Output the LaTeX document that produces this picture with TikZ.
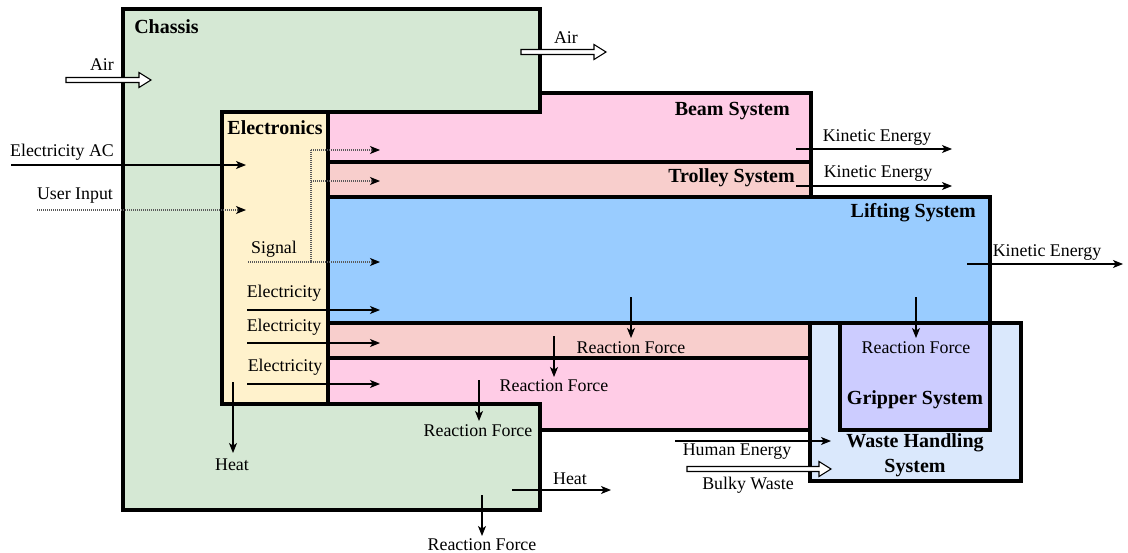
\documentclass[tikz,border=0pt]{standalone}
\usepackage{fontspec}
\setmainfont{Liberation Serif}
\usetikzlibrary{arrows.meta,calc}
\definecolor{chassisc}{HTML}{D5E8D4}
\definecolor{elecc}{HTML}{FFF2CC}
\definecolor{beamc}{HTML}{FFCCE6}
\definecolor{trolleyc}{HTML}{F8CECC}
\definecolor{liftc}{HTML}{99CCFF}
\definecolor{wastec}{HTML}{DAE8FC}
\definecolor{gripc}{HTML}{CCCCFF}
\newcommand\hollowarr[2]{\draw[hollowst] ($(#1)+(0,-2.5)$) -- ($(#2)+(-12,-2.5)$) -- ($(#2)+(-12,-7.5)$) -- (#2) -- ($(#2)+(-12,7.5)$) -- ($(#2)+(-12,2.5)$) -- ($(#1)+(0,2.5)$) -- cycle;}
\begin{document}
\begin{tikzpicture}[x=0.75pt,y=-0.75pt,
  box/.style={draw=black,line width=2.3pt},
  flow/.style={line width=0.8pt,-{Stealth[length=7.5pt,width=6pt,inset=2pt]}},
  sig/.style={line width=0.8pt,draw=black!65,dash pattern=on 0.7pt off 0.8pt},
  sigarr/.style={sig,-{Stealth[length=7.5pt,width=6pt,inset=2pt,black]}},
  hollowst/.style={draw=black,line width=0.8pt,fill=white},
  lbl/.style={inner sep=0pt,font=\fontsize{13.4}{16}\selectfont},
  ttl/.style={inner sep=0pt,font=\fontsize{15}{19}\selectfont\bfseries}]
\useasboundingbox (0,0) rectangle (1128,553);
% boxes
\draw[box,fill=beamc] (328,93) rectangle (811,430);
\draw[box,fill=trolleyc] (328,162) rectangle (811,358);
\draw[box,fill=liftc] (328,197) rectangle (990,323);
\draw[box,fill=wastec] (810,323) rectangle (1021,481);
\draw[box,fill=gripc] (840,323) rectangle (990,430);
\draw[box,fill=chassisc] (123,9) -- (540,9) -- (540,112) -- (222,112) -- (222,404) -- (540,404) -- (540,510) -- (123,510) -- cycle;
\draw[box,fill=elecc] (222,112) rectangle (328,404);
% titles
\node[ttl,anchor=west] (tChassis) at (134,27) {Chassis};
\node[ttl] (tElec) at (275,128) {Electronics};
\node[ttl,anchor=east] (tBeam) at (790,111) {Beam System};
\node[ttl,anchor=east] (tTrolley) at (795,178) {Trolley System};
\node[ttl,anchor=east] (tLift) at (976,213) {Lifting System};
\node[ttl] (tGrip) at (915,400) {Gripper System};
\node[ttl,align=center] (tWaste) at (915,455) {Waste Handling\\System};
% coordinates
\coordinate (airA) at (66,80); \coordinate (airB) at (151,80);
\coordinate (air2A) at (521,52); \coordinate (air2B) at (606,52);
\coordinate (acA) at (11,165); \coordinate (acB) at (246,165);
\coordinate (uiA) at (37,210); \coordinate (uiB) at (246,210);
\coordinate (sgA) at (248,262); \coordinate (sgJ) at (311,262); \coordinate (sgT) at (311,150);
\coordinate (sgM) at (311,181);
\coordinate (sgB1) at (380,150); \coordinate (sgB2) at (380,181); \coordinate (sgB3) at (380,262);
\coordinate (e1A) at (247,310); \coordinate (e1B) at (380,310);
\coordinate (e2A) at (247,343); \coordinate (e2B) at (380,343);
\coordinate (e3A) at (247,384); \coordinate (e3B) at (380,384);
\coordinate (hlA) at (233,382); \coordinate (hlB) at (233,453);
\coordinate (r1A) at (631,297); \coordinate (r1B) at (631,338);
\coordinate (r2A) at (554,336); \coordinate (r2B) at (554,377);
\coordinate (r3A) at (479,380); \coordinate (r3B) at (479,421);
\coordinate (r4A) at (482,495); \coordinate (r4B) at (482,536);
\coordinate (r5A) at (916,297); \coordinate (r5B) at (916,338);
\coordinate (hrA) at (512,490); \coordinate (hrB) at (611,490);
\coordinate (k1A) at (796,149); \coordinate (k1B) at (952,149);
\coordinate (k2A) at (796,186); \coordinate (k2B) at (952,186);
\coordinate (k3A) at (967,264); \coordinate (k3B) at (1123,264);
\coordinate (heA) at (675,441); \coordinate (heB) at (831,441);
\coordinate (bwA) at (687,469); \coordinate (bwB) at (831,469);
% hollow arrows
\hollowarr{airA}{airB}
\hollowarr{air2A}{air2B}
\hollowarr{bwA}{bwB}
% flows
\draw[flow] (acA) -- (acB);
\draw[sigarr] (uiA) -- (uiB);
\draw[sig] (sgA) -- (sgJ);
\draw[sig] (sgT) -- (sgJ);
\draw[sigarr] (sgT) -- (sgB1);
\draw[sigarr] (sgM) -- (sgB2);
\draw[sigarr] (sgJ) -- (sgB3);
\draw[flow] (e1A) -- (e1B);
\draw[flow] (e2A) -- (e2B);
\draw[flow] (e3A) -- (e3B);
\draw[flow] (hlA) -- (hlB);
\draw[flow] (r1A) -- (r1B);
\draw[flow] (r2A) -- (r2B);
\draw[flow] (r3A) -- (r3B);
\draw[flow] (r4A) -- (r4B);
\draw[flow] (r5A) -- (r5B);
\draw[flow] (hrA) -- (hrB);
\draw[flow] (k1A) -- (k1B);
\draw[flow] (k2A) -- (k2B);
\draw[flow] (k3A) -- (k3B);
\draw[flow] (heA) -- (heB);
% labels
\node[lbl] (lAir) at (102,65) {Air};
\node[lbl] (lAir2) at (566,38) {Air};
\node[lbl] (lAC) at (62,152) {Electricity AC};
\node[lbl] (lUI) at (75,196) {User Input};
\node[lbl] (lSig) at (274,249) {Signal};
\node[lbl] (lE1) at (284,293) {Electricity};
\node[lbl] (lE2) at (284,327) {Electricity};
\node[lbl] (lE3) at (285,367) {Electricity};
\node[lbl] (lHeatL) at (232,465) {Heat};
\node[lbl] (lR1) at (631,348) {Reaction Force};
\node[lbl] (lR2) at (554,386) {Reaction Force};
\node[lbl] (lR3) at (478,431) {Reaction Force};
\node[lbl] (lR4) at (482,545) {Reaction Force};
\node[lbl] (lR5) at (916,348) {Reaction Force};
\node[lbl] (lHeatR) at (570,479) {Heat};
\node[lbl] (lK1) at (877,138) {Kinetic Energy};
\node[lbl] (lK2) at (878,174) {Kinetic Energy};
\node[lbl] (lK3) at (1047,253) {Kinetic Energy};
\node[lbl] (lHE) at (737,452) {Human Energy};
\node[lbl] (lBW) at (748,485) {Bulky Waste};
\end{tikzpicture}
\end{document}
